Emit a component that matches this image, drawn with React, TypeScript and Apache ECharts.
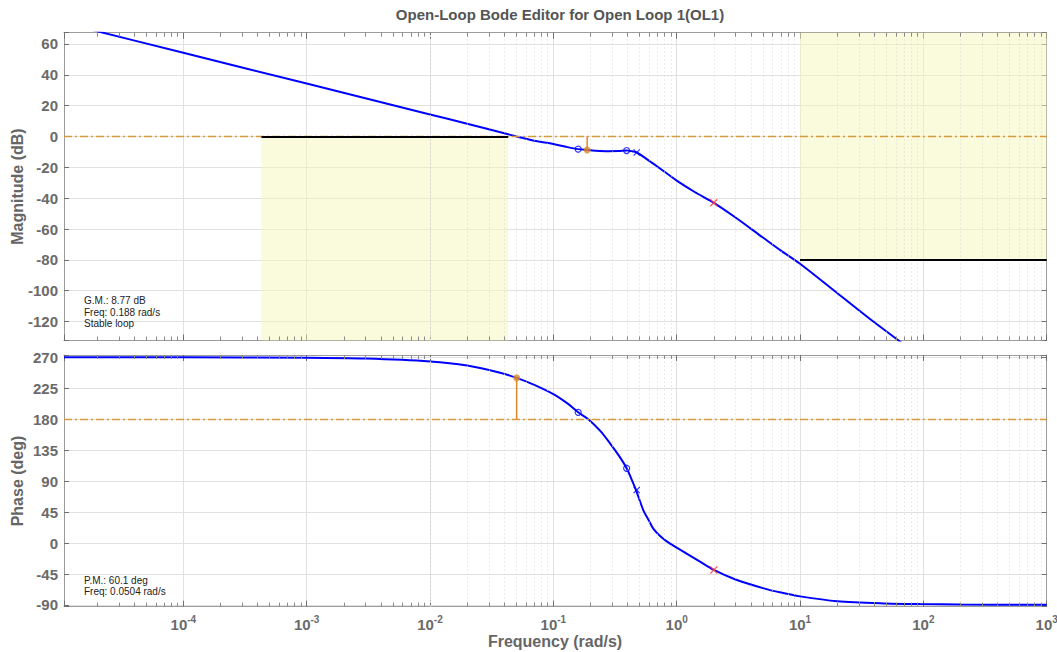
import React, { useEffect, useRef } from "react";
import * as echarts from "echarts";

// ---------- axis ranges ----------
const X_MIN = 1.078e-5;
const X_MAX = 1000;
const MAG_MIN = -132.3;
const MAG_MAX = 67.3;
const PH_MIN = -92.5;
const PH_MAX = 273.3;

// ---------- data ----------
const magFreq = [1.078e-5, 1e-4, 1e-3, 1e-2, 0.02, 0.03, 0.04, 0.0504, 0.07, 0.1, 0.13, 0.159, 0.188, 0.22, 0.28, 0.34, 0.393, 0.43, 0.474, 0.55, 0.7, 0.85, 1.0, 1.4, 2.0, 3, 5, 7, 10, 20, 40, 64.6, 100, 1000];
const magDb = [73.6, 54.3, 34.3, 14.3, 8.3, 4.7, 2.1, 0.0, -2.8, -4.9, -6.9, -8.2, -8.77, -9.2, -9.5, -9.4, -9.1, -9.5, -10.4, -13.7, -19.6, -24.5, -28.6, -36, -43, -52.5, -65.5, -74, -82.5, -101.5, -120.5, -133, -145, -207];

const phaseFreq = [1.078e-5, 1e-4, 1e-3, 3e-3, 1e-2, 0.02, 0.037, 0.0504, 0.07, 0.1, 0.13, 0.159, 0.192, 0.24, 0.288, 0.34, 0.393, 0.43, 0.468, 0.536, 0.6, 0.646, 0.73, 0.83, 1.0, 1.545, 2.0, 3, 5, 7, 10, 20, 50, 94, 200, 1000];
const phaseDeg = [270.0, 269.9, 269.4, 268.2, 264.0, 258.0, 247.6, 240.1, 230.0, 216.5, 203.0, 190.0, 180.0, 163.0, 145.0, 127.0, 108.7, 93.0, 77.0, 48.0, 31.5, 21.0, 10.5, 2.5, -6.5, -27.0, -39.0, -53.0, -65.5, -72.0, -77.5, -84.5, -87.8, -88.7, -89.3, -89.8];

// compensator zeros (o) and poles (x)
const zeroFreq = [0.159, 0.393];
const zeroMag = [-8.2, -9.1];
const zeroPhase = [190.0, 108.7];
const poleFreq = [0.474];
const poleMag = [-10.4];
const polePhase = [77.0];
const plantPoleFreq = [2.0];
const plantPoleMag = [-43.0];
const plantPolePhase = [-39.0];

// margins
const gmFreq = 0.188;
const gmDb = -8.77;
const pmFreq = 0.0504;
const pmDeg = 240.1;

// design requirement bounds
const lowBoundFreq = [4.3e-4, 0.043];
const lowBoundDb = 0;
const highBoundFreq = [10, 1000];
const highBoundDb = -80;

// tick helpers
const decadeExps = [-5, -4, -3, -2, -1, 0, 1, 2];
const minorMult = [2, 3, 4, 5, 6, 7, 8, 9];

const FONT = "'Liberation Sans', Arial, Helvetica, sans-serif";
const LABEL_GRAY = "#6a6a6a";
const AXIS_GRAY = "#9c9c9c";
const GRID_GRAY = "#e1e1e1";
const BLUE = "#0000ff";
const ORANGE = "#d9892b";
const REFLINE = "#d99a3e";
const XPATH = "path://M0,1.2L1.2,0L5,3.8L8.8,0L10,1.2L6.2,5L10,8.8L8.8,10L5,6.2L1.2,10L0,8.8L3.8,5Z";

const minorFreqs: number[] = [];
decadeExps.forEach((e) => {
  minorMult.forEach((m) => {
    const f = m * Math.pow(10, e);
    if (f > X_MIN && f < X_MAX) minorFreqs.push(f);
  });
});

const pairs = (xs: number[], ys: number[]) => xs.map((x, i) => [x, ys[i]]);

function minorMarks(yMin: number, yMax: number, tickLen: number) {
  const grid = minorFreqs.map((f) => ({
    xAxis: f,
    lineStyle: { color: "#d8d8d8", width: 1, type: [1, 3] as any },
  }));
  const ticks: any[] = [];
  minorFreqs.forEach((f) => {
    ticks.push([
      { coord: [f, yMin], lineStyle: { color: "#8a8a8a", width: 1, type: "solid" } },
      { coord: [f, yMin + tickLen] },
    ]);
    ticks.push([
      { coord: [f, yMax], lineStyle: { color: "#8a8a8a", width: 1, type: "solid" } },
      { coord: [f, yMax - tickLen] },
    ]);
  });
  return [...grid, ...ticks];
}

const yLabelFmt = (step: number) => (v: number) => {
  const r = Math.round(v / step);
  return Math.abs(v / step - r) < 1e-6 ? String(r * step) : "";
};

const xLabelFmt = (v: number) => {
  const e = Math.log10(v);
  const r = Math.round(e);
  if (Math.abs(e - r) > 1e-6 || r < -4) return "";
  return `{b|10}{s|${r}}`;
};

function xAxisDef(gridIndex: number, position: "top" | "bottom", labels: boolean) {
  return {
    type: "log",
    logBase: 10,
    gridIndex,
    position,
    min: X_MIN,
    max: X_MAX,
    splitNumber: 8,
    axisLine: { show: true, onZero: false, lineStyle: { color: AXIS_GRAY, width: 1 } },
    axisTick: { show: true, inside: true, length: 6, lineStyle: { color: "#6f6f6f" } },
    splitLine: { show: position === "bottom", lineStyle: { color: GRID_GRAY, width: 1 } },
    minorTick: { show: false },
    axisLabel: labels
      ? {
          show: true,
          margin: 8,
          formatter: xLabelFmt,
          rich: {
            b: { fontFamily: FONT, fontSize: 15, fontWeight: "bold", color: LABEL_GRAY, verticalAlign: "bottom" },
            s: { fontFamily: FONT, fontSize: 10, fontWeight: "bold", color: LABEL_GRAY, verticalAlign: "bottom", padding: [0, 0, 7, 0] },
          },
        }
      : { show: false },
  };
}

function yAxisDef(gridIndex: number, position: "left" | "right", min: number, max: number, step: number, labels: boolean) {
  return {
    type: "value",
    gridIndex,
    position,
    min,
    max,
    splitNumber: 8,
    minInterval: step,
    maxInterval: step,
    axisLine: { show: true, onZero: false, lineStyle: { color: AXIS_GRAY, width: 1 } },
    axisTick: { show: true, inside: true, length: 5, lineStyle: { color: "#6f6f6f" } },
    splitLine: { show: position === "left", lineStyle: { color: GRID_GRAY, width: 1 } },
    axisLabel: labels
      ? { show: true, margin: 6, formatter: yLabelFmt(step), fontFamily: FONT, fontSize: 15, fontWeight: "bold", color: LABEL_GRAY }
      : { show: false },
  };
}

const silentMark = { symbol: "none", silent: true, label: { show: false }, animation: false };

const hollow = { color: "rgba(0,0,0,0)", borderColor: BLUE, borderWidth: 1.2 };

const nameStyle = { fontFamily: FONT, fontSize: 16, fontWeight: "bold", fill: "#666666", textAlign: "center", textVerticalAlign: "middle" };

const option: any = {
  animation: false,
  backgroundColor: "#ffffff",
  textStyle: { fontFamily: FONT },
  title: {
    text: "Open-Loop Bode Editor for Open Loop 1(OL1)",
    left: 555,
    top: 2,
    textAlign: "center",
    textStyle: { fontFamily: FONT, fontSize: 15, fontWeight: "bold", color: "#555555" },
  },
  grid: [
    { left: 64, right: 10.3, top: 32.7, height: 307.8, outerBoundsMode: "none", containLabel: false },
    { left: 64, right: 10.3, top: 355, height: 251.7, outerBoundsMode: "none", containLabel: false },
  ],
  xAxis: [
    xAxisDef(0, "bottom", false),
    xAxisDef(0, "top", false),
    xAxisDef(1, "bottom", true),
    xAxisDef(1, "top", false),
  ],
  yAxis: [
    yAxisDef(0, "left", MAG_MIN, MAG_MAX, 20, true),
    yAxisDef(0, "right", MAG_MIN, MAG_MAX, 20, false),
    yAxisDef(1, "left", PH_MIN, PH_MAX, 45, true),
    yAxisDef(1, "right", PH_MIN, PH_MAX, 45, false),
  ],
  graphic: [
    { type: "text", x: 17, y: 186.6, rotation: Math.PI / 2, style: { ...nameStyle, text: "Magnitude (dB)" } },
    { type: "text", x: 17, y: 481, rotation: Math.PI / 2, style: { ...nameStyle, text: "Phase (deg)" } },
    { type: "text", x: 555, y: 641, style: { ...nameStyle, text: "Frequency (rad/s)" } },
    {
      type: "text",
      x: 84,
      y: 312,
      z: 10,
      style: {
        text: "G.M.: 8.77 dB\nFreq: 0.188 rad/s\nStable loop",
        fontFamily: FONT,
        fontSize: 10,
        lineHeight: 11.2,
        fill: "#222222",
        textAlign: "left",
        textVerticalAlign: "middle",
      },
    },
    {
      type: "text",
      x: 84,
      y: 586.4,
      z: 10,
      style: {
        text: "P.M.: 60.1 deg\nFreq: 0.0504 rad/s",
        fontFamily: FONT,
        fontSize: 10,
        lineHeight: 11.2,
        fill: "#222222",
        textAlign: "left",
        textVerticalAlign: "middle",
      },
    },
  ],
  series: [
    // ---- magnitude: shaded requirement regions ----
    {
      type: "line",
      xAxisIndex: 0,
      yAxisIndex: 0,
      data: [],
      z: 1,
      markArea: {
        silent: true,
        animation: false,
        itemStyle: { color: "rgba(245,245,185,0.5)" },
        data: [
          [{ coord: [lowBoundFreq[0], MAG_MIN] }, { coord: [lowBoundFreq[1], lowBoundDb] }],
          [{ coord: [highBoundFreq[0], highBoundDb] }, { coord: [highBoundFreq[1], MAG_MAX] }],
        ],
      },
    },
    // ---- magnitude: minor grid + minor ticks ----
    {
      type: "line",
      xAxisIndex: 0,
      yAxisIndex: 0,
      data: [],
      z: 1,
      markLine: { ...silentMark, data: minorMarks(MAG_MIN, MAG_MAX, 2.6) },
    },
    // ---- magnitude: reference lines ----
    {
      type: "line",
      xAxisIndex: 0,
      yAxisIndex: 0,
      data: [],
      z: 2,
      markLine: {
        ...silentMark,
        data: [
          { yAxis: 0, lineStyle: { color: REFLINE, width: 1.3, type: [8, 3, 2, 3] as any } },
          [
            { coord: [lowBoundFreq[0], lowBoundDb], lineStyle: { color: "#000000", width: 2, type: "solid" } },
            { coord: [lowBoundFreq[1], lowBoundDb] },
          ],
          [
            { coord: [highBoundFreq[0], highBoundDb], lineStyle: { color: "#000000", width: 2, type: "solid" } },
            { coord: [highBoundFreq[1], highBoundDb] },
          ],
        ],
      },
    },
    // ---- magnitude curve ----
    {
      name: "Magnitude",
      type: "line",
      xAxisIndex: 0,
      yAxisIndex: 0,
      data: pairs(magFreq, magDb),
      showSymbol: false,
      smooth: 0.3,
      clip: true,
      z: 4,
      lineStyle: { color: BLUE, width: 2 },
    },
    // gain margin stem + dot
    {
      type: "line",
      xAxisIndex: 0,
      yAxisIndex: 0,
      data: [[gmFreq, 0], [gmFreq, gmDb]],
      showSymbol: false,
      z: 5,
      lineStyle: { color: ORANGE, width: 1.5 },
    },
    {
      type: "scatter",
      xAxisIndex: 0,
      yAxisIndex: 0,
      data: [[gmFreq, gmDb]],
      symbol: "circle",
      symbolSize: 7,
      z: 6,
      itemStyle: { color: ORANGE },
    },
    {
      type: "scatter",
      xAxisIndex: 0,
      yAxisIndex: 0,
      data: pairs(zeroFreq, zeroMag),
      symbol: "circle",
      symbolSize: 6,
      z: 6,
      itemStyle: hollow,
    },
    {
      type: "scatter",
      xAxisIndex: 0,
      yAxisIndex: 0,
      data: pairs(poleFreq, poleMag),
      symbol: XPATH,
      symbolSize: 7,
      z: 6,
      itemStyle: { color: BLUE },
    },
    {
      type: "scatter",
      xAxisIndex: 0,
      yAxisIndex: 0,
      data: pairs(plantPoleFreq, plantPoleMag),
      symbol: XPATH,
      symbolSize: 8,
      z: 6,
      itemStyle: { color: "#ff3b3b" },
    },

    // ---- phase: minor grid + ticks ----
    {
      type: "line",
      xAxisIndex: 2,
      yAxisIndex: 2,
      data: [],
      z: 1,
      markLine: { ...silentMark, data: minorMarks(PH_MIN, PH_MAX, 5.8) },
    },
    {
      type: "line",
      xAxisIndex: 2,
      yAxisIndex: 2,
      data: [],
      z: 2,
      markLine: {
        ...silentMark,
        data: [{ yAxis: 180, lineStyle: { color: REFLINE, width: 1.3, type: [8, 3, 2, 3] as any } }],
      },
    },
    {
      name: "Phase",
      type: "line",
      xAxisIndex: 2,
      yAxisIndex: 2,
      data: pairs(phaseFreq, phaseDeg),
      showSymbol: false,
      smooth: 0.3,
      clip: true,
      z: 4,
      lineStyle: { color: BLUE, width: 2 },
    },
    {
      type: "line",
      xAxisIndex: 2,
      yAxisIndex: 2,
      data: [[pmFreq, 180], [pmFreq, pmDeg]],
      showSymbol: false,
      z: 5,
      lineStyle: { color: ORANGE, width: 1.5 },
    },
    {
      type: "scatter",
      xAxisIndex: 2,
      yAxisIndex: 2,
      data: [[pmFreq, pmDeg]],
      symbol: "circle",
      symbolSize: 7,
      z: 6,
      itemStyle: { color: ORANGE },
    },
    {
      type: "scatter",
      xAxisIndex: 2,
      yAxisIndex: 2,
      data: pairs(zeroFreq, zeroPhase),
      symbol: "circle",
      symbolSize: 6,
      z: 6,
      itemStyle: hollow,
    },
    {
      type: "scatter",
      xAxisIndex: 2,
      yAxisIndex: 2,
      data: pairs(poleFreq, polePhase),
      symbol: XPATH,
      symbolSize: 7,
      z: 6,
      itemStyle: { color: BLUE },
    },
    {
      type: "scatter",
      xAxisIndex: 2,
      yAxisIndex: 2,
      data: pairs(plantPoleFreq, plantPolePhase),
      symbol: XPATH,
      symbolSize: 8,
      z: 6,
      itemStyle: { color: "#ff3b3b" },
    },
  ],
};

export default function App() {
  const ref = useRef<HTMLDivElement>(null);
  useEffect(() => {
    if (!ref.current) return;
    const chart = echarts.init(ref.current, null, { renderer: "svg" });
    chart.setOption(option);
    return () => chart.dispose();
  }, []);
  return <div ref={ref} style={{ position: "absolute", left: 0, top: 0, width: 1057, height: 652 }} />;
}
